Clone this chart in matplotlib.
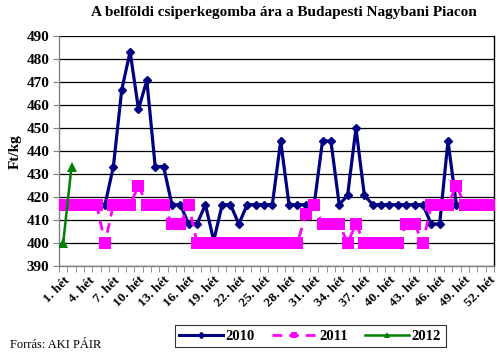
import numpy as np
import matplotlib
matplotlib.use("Agg")
import matplotlib.pyplot as plt
from matplotlib.lines import Line2D

weeks = list(range(1, 53))
week_labels = [f"{w}. hét" for w in weeks]

nan = np.nan
s2010 = [nan, nan, nan, nan, nan,
         416.7, 433.3, 466.7, 483.3, 458.3, 470.8, 433.3, 433.3, 416.7, 416.7,
         408.3, 408.3, 416.7, 401.0, 416.7, 416.7, 408.3, 416.7, 416.7, 416.7,
         416.7, 444.4, 416.7, 416.7, 416.7, 416.7, 444.4, 444.4, 416.7, 420.8,
         450.0, 420.8, 416.7, 416.7, 416.7, 416.7, 416.7, 416.7, 416.7, 408.3,
         408.3, 444.4, 416.7, 416.7, 416.7, 416.7, 416.7]
s2011 = [416.7, 416.7, 416.7, 416.7, 416.7, 400.0, 416.7, 416.7, 416.7, 425.0,
         416.7, 416.7, 416.7, 408.3, 408.3, 416.7, 400.0, 400.0, 400.0, 400.0,
         400.0, 400.0, 400.0, 400.0, 400.0, 400.0, 400.0, 400.0, 400.0, 412.5,
         416.7, 408.3, 408.3, 408.3, 400.0, 408.3, 400.0, 400.0, 400.0, 400.0,
         400.0, 408.3, 408.3, 400.0, 416.7, 416.7, 416.7, 425.0, 416.7, 416.7,
         416.7, 416.7]
s2012 = [400.0, 433.3]

series_names = ["2010", "2011", "2012"]
title = "A belföldi csiperkegomba ára a Budapesti Nagybani Piacon"
ylabel = "Ft/kg"
source = "Forrás: AKI PÁIR"

serif = ["Liberation Serif", "DejaVu Serif"]
plt.rcParams['font.family'] = serif

fig = plt.figure(figsize=(5.0, 3.59), dpi=100)
ax = fig.add_axes([0.118, 0.259, 0.870, 0.640])

x = np.arange(len(weeks))
ax.plot(x, s2010, color="#000080", lw=2.3, marker="D", ms=4.5, zorder=3)
ax.plot(x, s2011, color="#FF00FF", lw=2.0, ls=(0, (3.5, 2.5)), marker="s", ms=8,
        markeredgewidth=0, zorder=4)
ax.plot(np.arange(len(s2012)), s2012, color="#008000", lw=1.8, marker="^", ms=7,
        markeredgewidth=0, zorder=5)

ax.set_xlim(-0.5, len(weeks) - 0.5)
ax.set_ylim(390, 490)
ax.set_yticks(np.arange(390, 491, 10))
ax.yaxis.grid(True, color="black", lw=0.9)
ax.set_axisbelow(True)

ax.set_xticks(x[::3])
ax.set_xticklabels(week_labels[::3], rotation=45, ha="right", rotation_mode="anchor",
                   fontsize=9.5, fontweight="bold")
ax.set_xticks(np.arange(-0.5, len(weeks), 1.0), minor=True)
ax.tick_params(axis="x", which="major", length=0, pad=6)
ax.tick_params(axis="x", which="minor", length=4, color="#808080", direction="out")
ax.tick_params(axis="y", length=4, color="#808080", labelsize=11, pad=3)
for lab in ax.get_yticklabels():
    lab.set_fontweight("bold")

for side in ["left", "bottom"]:
    ax.spines[side].set_color("#808080")
    ax.spines[side].set_linewidth(1.0)
ax.spines["right"].set_color("black")
ax.spines["right"].set_linewidth(1.0)
ax.spines["top"].set_visible(False)

ax.set_ylabel(ylabel, fontsize=11, fontweight="bold", labelpad=3)

fig.text(0.567, 0.965, title, ha="center", va="center", fontsize=11, fontweight="bold")
fig.text(0.02, 0.04, source, ha="left", va="center", fontsize=9)

handles = [
    Line2D([], [], color="#000080", lw=2.2, marker="D", ms=3),
    Line2D([], [], color="#FF00FF", lw=2.0, ls=(0, (3.5, 2.5)), marker="s", ms=5, markeredgewidth=0),
    Line2D([], [], color="#008000", lw=1.8, marker="^", ms=5, markeredgewidth=0),
]
leg = fig.legend(handles, series_names, loc="center", bbox_to_anchor=(0.62, 0.063),
                 ncol=3, frameon=True, fancybox=False, edgecolor="black",
                 prop={"family": serif, "weight": "bold", "size": 10.5},
                 handlelength=3.0, handletextpad=0.2, columnspacing=1.2,
                 borderpad=0.3, borderaxespad=0.2)
leg.get_frame().set_linewidth(0.8)

fig.savefig("out.png", dpi=100)
